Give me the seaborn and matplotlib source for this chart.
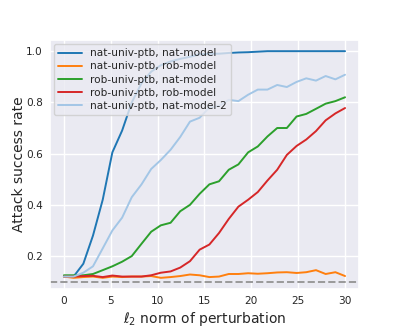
import matplotlib
matplotlib.use("Agg")
import matplotlib.pyplot as plt
import seaborn as sns

# perturbation norms (30 evenly spaced points between 0 and 30)
eps = [0.00, 1.03, 2.07, 3.10, 4.14, 5.17, 6.21, 7.24, 8.28, 9.31,
       10.34, 11.38, 12.41, 13.45, 14.48, 15.52, 16.55, 17.59, 18.62, 19.66,
       20.69, 21.72, 22.76, 23.79, 24.83, 25.86, 26.90, 27.93, 28.97, 30.00]

nat_nat = [0.12, 0.12, 0.17, 0.28, 0.42, 0.605, 0.69, 0.80, 0.875, 0.92,
           0.945, 0.96, 0.97, 0.978, 0.988, 0.99, 0.99, 0.993, 0.995, 0.996,
           0.998, 1.0, 1.0, 1.0, 1.0, 1.0, 1.0, 1.0, 1.0, 1.0]
nat_rob = [0.12, 0.115, 0.118, 0.12, 0.115, 0.12, 0.118, 0.12, 0.12, 0.122,
           0.115, 0.118, 0.122, 0.128, 0.125, 0.118, 0.12, 0.13, 0.13, 0.133,
           0.131, 0.133, 0.136, 0.137, 0.134, 0.137, 0.145, 0.13, 0.137, 0.122]
rob_nat = [0.125, 0.125, 0.125, 0.13, 0.145, 0.16, 0.178, 0.20, 0.248, 0.295,
           0.32, 0.33, 0.375, 0.40, 0.443, 0.48, 0.492, 0.537, 0.558, 0.605,
           0.628, 0.667, 0.70, 0.70, 0.745, 0.755, 0.775, 0.795, 0.805, 0.82]
rob_rob = [0.12, 0.12, 0.122, 0.123, 0.118, 0.124, 0.12, 0.12, 0.12, 0.125,
           0.135, 0.14, 0.155, 0.18, 0.225, 0.245, 0.29, 0.345, 0.393, 0.42,
           0.45, 0.495, 0.537, 0.595, 0.63, 0.655, 0.688, 0.73, 0.757, 0.778]
nat_nat2 = [0.12, 0.12, 0.135, 0.16, 0.23, 0.30, 0.35, 0.43, 0.48, 0.54,
            0.575, 0.615, 0.665, 0.725, 0.74, 0.78, 0.786, 0.81, 0.805, 0.83,
            0.85, 0.85, 0.868, 0.86, 0.88, 0.894, 0.885, 0.903, 0.89, 0.908]

labels = ["nat-univ-ptb, nat-model", "nat-univ-ptb, rob-model",
          "rob-univ-ptb, nat-model", "rob-univ-ptb, rob-model",
          "nat-univ-ptb, nat-model-2"]
colors = ["#1f77b4", "#ff7f0e", "#2ca02c", "#d62728", "#a3c6e6"]
chance = 0.1

sns.set_theme(style="darkgrid")
plt.rcParams['font.family'] = ['DejaVu Sans']

fig, ax = plt.subplots(figsize=(3.99, 3.32), dpi=100)
fig.subplots_adjust(left=0.125, right=0.9, bottom=0.129, top=0.88)

for ys, lab, c in zip([nat_nat, nat_rob, rob_nat, rob_rob, nat_nat2], labels, colors):
    sns.lineplot(x=eps, y=ys, label=lab, color=c, linewidth=1.4, ax=ax)

ax.axhline(chance, color="#999999", linestyle="--", linewidth=1.4)

ax.set_xticks([0, 5, 10, 15, 20, 25, 30])
ax.set_yticks([0.2, 0.4, 0.6, 0.8, 1.0])
ax.tick_params(labelsize=7.6, length=0, pad=5)
ax.set_xlabel(r"$\ell_2$ norm of perturbation", fontsize=10, labelpad=3)
ax.set_ylabel("Attack success rate", fontsize=10, labelpad=0)
ax.legend(loc="upper left", fontsize=7.6, handlelength=2.2,
          labelspacing=0.3, borderaxespad=0.4)

fig.savefig("out.png", dpi=100)
